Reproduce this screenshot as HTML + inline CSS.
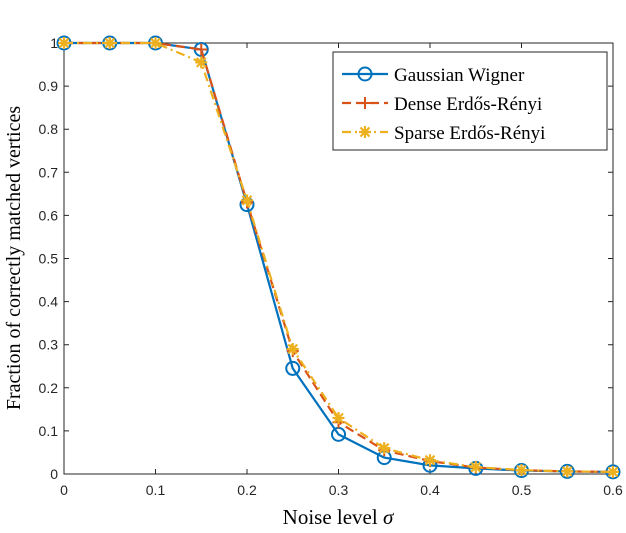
<!DOCTYPE html>
<html><head><meta charset="utf-8"><style>
body{margin:0;background:#fff;}
svg text{font-family:"Liberation Sans",sans-serif;}
</style></head><body>
<svg id="chart" width="626" height="528" viewBox="0 0 626 528" xmlns="http://www.w3.org/2000/svg">
<g id="axes"></g>
<g id="series"></g>
<text x="338" y="524" text-anchor="middle" font-size="21" style="font-family:'Liberation Serif',serif">Noise level <tspan font-style="italic">σ</tspan></text>
<text transform="translate(20,258) rotate(-90)" text-anchor="middle" font-size="20" style="font-family:'Liberation Serif',serif">Fraction of correctly matched vertices</text>
<g id="legend"></g>
</svg>
<script>
const xs=[0,0.05,0.1,0.15,0.2,0.25,0.3,0.35,0.4,0.45,0.5,0.55,0.6];
const gaussian=[1,1,1,0.985,0.625,0.245,0.092,0.038,0.02,0.013,0.008,0.006,0.005];
const dense=[1,1,1,0.985,0.63,0.285,0.12,0.055,0.03,0.015,0.009,0.006,0.005];
const sparse=[1,1,1,0.955,0.635,0.29,0.13,0.06,0.032,0.016,0.009,0.006,0.005];
const xTicks=[0,0.1,0.2,0.3,0.4,0.5,0.6];
const yTicks=[0,0.1,0.2,0.3,0.4,0.5,0.6,0.7,0.8,0.9,1];
const seriesNames=["Gaussian Wigner","Dense Erdős-Rényi","Sparse Erdős-Rényi"];
const NS="http://www.w3.org/2000/svg";
const X0=64,X1=613,Y0=474,Y1=43;
function sx(v){return X0+(v-0)/(0.6)*(X1-X0);}
function sy(v){return Y0-v*(Y0-Y1);}
function mk(tag,attrs,parent){const e=document.createElementNS(NS,tag);for(const k in attrs)e.setAttribute(k,attrs[k]);parent.appendChild(e);return e;}
const axes=document.getElementById('axes');
let r=mk('rect',{x:X0,y:Y1,width:X1-X0,height:Y0-Y1,fill:'none',stroke:'#262626','stroke-width':1},axes);


xTicks.forEach(t=>{
 const x=sx(t);
 let l=mk('path',{d:`M${x},${Y0}v-5M${x},${Y1}v5`,stroke:'#262626'},axes);
 
 
 let tx=mk('text',{x:x,y:Y0+21,'text-anchor':'middle','font-size':14,fill:'#262626'},axes);
 tx.textContent=String(t);
 
 
});
yTicks.forEach(t=>{
 const y=sy(t);
 let l=mk('path',{d:`M${X0},${y}h5M${X1},${y}h-5`,stroke:'#262626'},axes);
 
 
 let tx=mk('text',{x:X0-6,y:y+5,'text-anchor':'end','font-size':14,fill:'#262626'},axes);
 tx.textContent=String(t);
 
 
});
const colors=['#0072BD','#D95319','#EDB120'];
const dashes=['none','9,5','9,4,2,4'];
function marker(type,x,y,c,g){
 if(type===0){mk('circle',{cx:x,cy:y,r:6.5,fill:'none',stroke:c,'stroke-width':2},g);}
 else if(type===1){mk('path',{d:`M${x-6},${y}h12M${x},${y-6}v12`,stroke:c,'stroke-width':2},g);}
 else{mk('path',{d:`M${x-6},${y}h12M${x},${y-6}v12M${x-4.5},${y-4.5}l9,9M${x+4.5},${y-4.5}l-9,9`,stroke:c,'stroke-width':2.2},g);}
}
const sg=document.getElementById('series');
[gaussian,dense,sparse].forEach((data,i)=>{
 const g=mk('g',{},sg);
 
 
 const d=data.map((v,j)=>(j?'L':'M')+sx(xs[j])+','+sy(v)).join('');
 mk('path',{d:d,fill:'none',stroke:colors[i],'stroke-width':2.2,'stroke-dasharray':dashes[i]},g);
 data.forEach((v,j)=>marker(i,sx(xs[j]),sy(v),colors[i],g));
});
const lg=document.getElementById('legend');
mk('rect',{x:333,y:52,width:274,height:98,fill:'#fff',stroke:'#262626'},lg);
seriesNames.forEach((n,i)=>{
 const y=74+i*29;
 const g=mk('g',{},lg);
 
 
 mk('path',{d:`M342,${y}h46`,stroke:colors[i],'stroke-width':2.2,'stroke-dasharray':dashes[i]},g);
 marker(i,365,y,colors[i],g);
 const t=mk('text',{x:394,y:y+7,'font-size':19,style:"font-family:'Liberation Serif',serif"},g);
 t.textContent=n;
});
</script>
</body></html>
